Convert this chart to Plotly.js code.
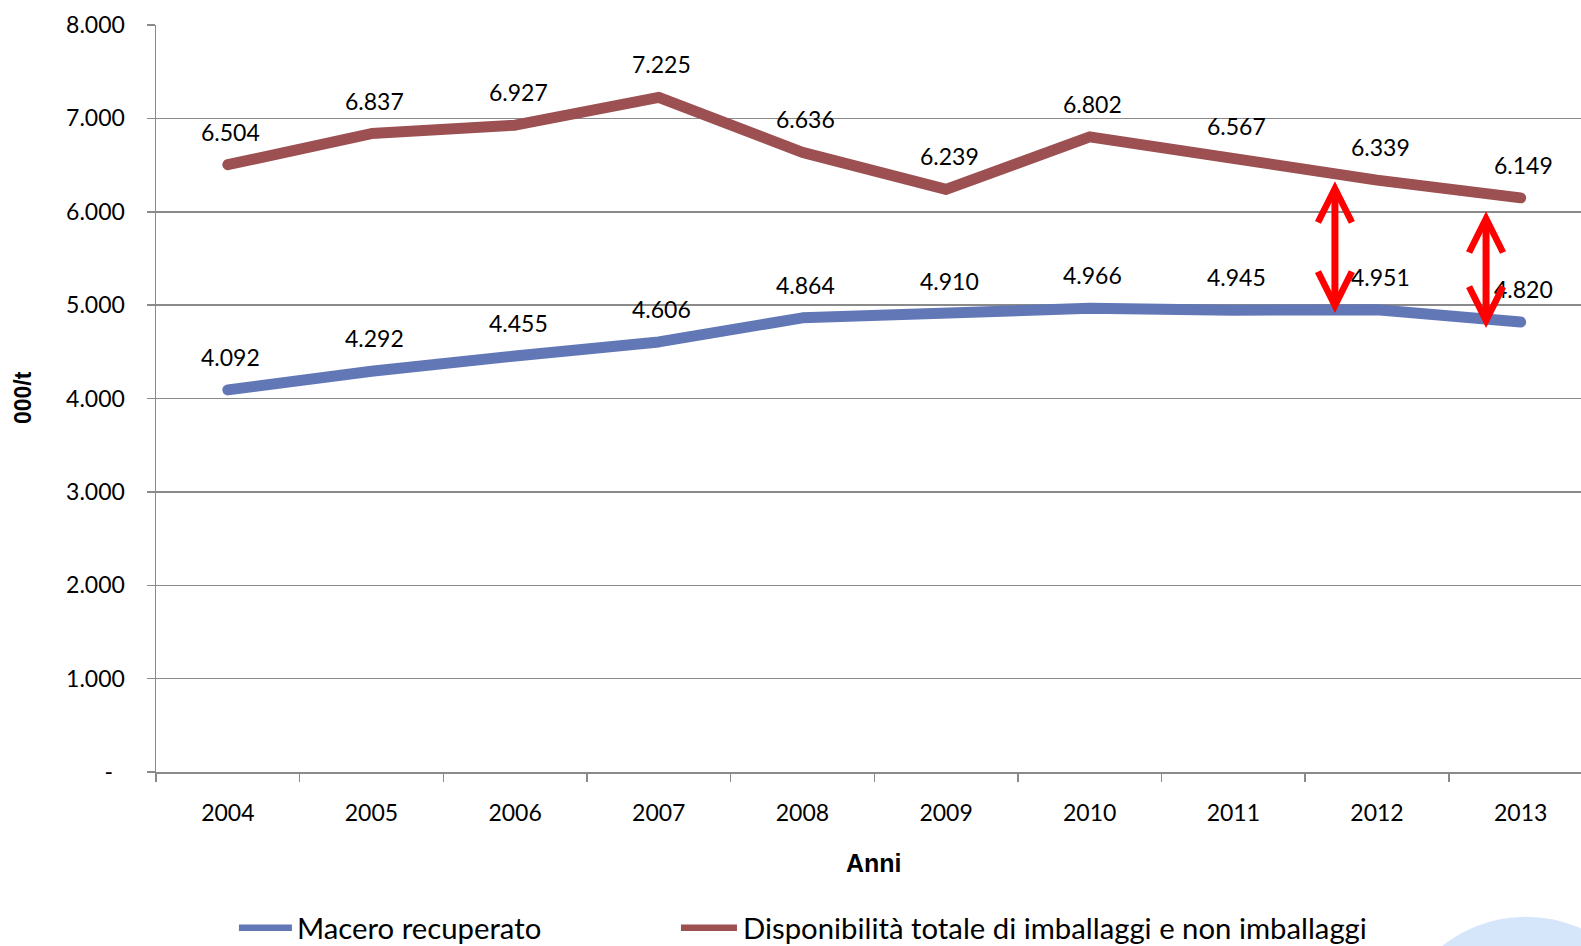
<!DOCTYPE html>
<html>
<head>
<meta charset="utf-8">
<script src="https://cdn.plot.ly/plotly-3.0.1.min.js"></script>
<style>
html, body { margin: 0; padding: 0; background: #ffffff; }
#chart { width: 1581px; height: 946px; }
.js-line { stroke-linecap: round; stroke-linejoin: round; }
</style>
</head>
<body>
<div id="chart"></div>
<script>
// ---- Data ----
const years = ['2004', '2005', '2006', '2007', '2008', '2009', '2010', '2011', '2012', '2013'];
const macero = [4092, 4292, 4455, 4606, 4864, 4910, 4966, 4945, 4951, 4820];
const disponibilita = [6504, 6837, 6927, 7225, 6636, 6239, 6802, 6567, 6339, 6149];
const seriesNames = ['Macero recuperato', 'Disponibilità totale di imballaggi e non imballaggi'];
const yTickVals = [0, 1000, 2000, 3000, 4000, 5000, 6000, 7000, 8000];
const yTickText = ['-\u00a0\u00a0', '1.000', '2.000', '3.000', '4.000', '5.000', '6.000', '7.000', '8.000'];
const arrowX = [7.707, 8.759];
const arrowTop = [6343, 6021];
const arrowBottom = [4917, 4756];

// ---- Styling ----
const blue = '#6177b6';
const brown = '#9c5052';
const grid = '#8a8a8a';
const labelFont = { family: 'Lato, "Open Sans", sans-serif', size: 23, color: '#000000' };
const titleFont = { family: '"Liberation Sans", Arial, sans-serif', size: 25, color: '#000000', weight: 'bold' };

function fmt(v) { return String(v).replace(/\B(?=(\d{3})+(?!\d))/g, '.'); }

const traces = [
  { x: years, y: macero, name: seriesNames[0], type: 'scatter', mode: 'lines',
    line: { color: blue, width: 11 }, showlegend: false, hoverinfo: 'skip' },
  { x: years, y: disponibilita, name: seriesNames[1], type: 'scatter', mode: 'lines',
    line: { color: brown, width: 11 }, showlegend: false, hoverinfo: 'skip' }
];

const annotations = [];
[macero, disponibilita].forEach(series => {
  series.forEach((v, i) => {
    annotations.push({ x: i, y: v, xref: 'x', yref: 'y', text: fmt(v), showarrow: false,
      yshift: 33, xshift: 3, xanchor: 'center', yanchor: 'middle', font: labelFont });
  });
});
arrowX.forEach((ax, i) => {
  annotations.push({ x: ax, y: arrowBottom[i], ax: ax, ay: arrowTop[i], xref: 'x', yref: 'y',
    axref: 'x', ayref: 'y', showarrow: true, text: '', arrowside: 'end+start',
    arrowhead: 5, startarrowhead: 5, arrowsize: 0.95, startarrowsize: 0.95,
    arrowwidth: 7, arrowcolor: '#ff0000', standoff: 0, startstandoff: 0 });
});
// axis titles
annotations.push({ xref: 'paper', yref: 'paper', x: 0.5039, y: -0.1213, text: 'Anni',
  showarrow: false, xanchor: 'center', yanchor: 'middle', font: titleFont });
annotations.push({ xref: 'paper', yref: 'paper', x: -0.0933, y: 0.5007, text: '000/t',
  showarrow: false, xanchor: 'center', yanchor: 'middle', textangle: -90,
  font: Object.assign({}, titleFont, { size: 23 }) });
// legend
const legendY = -0.2084;
const legendFont = { family: 'Lato, "Open Sans", sans-serif', size: 29.3, color: '#000000' };
const legendItems = [
  { x0: 0.0582, x1: 0.0954, tx: 0.0975, color: blue, name: seriesNames[0] },
  { x0: 0.3684, x1: 0.4077, tx: 0.4105, color: brown, name: seriesNames[1] }
];
const shapes = [];
legendItems.forEach(it => {
  shapes.push({ type: 'line', xref: 'paper', yref: 'paper', x0: it.x0, x1: it.x1, y0: legendY, y1: legendY,
    line: { color: it.color, width: 6.5 } });
  annotations.push({ xref: 'paper', yref: 'paper', x: it.tx, y: legendY, text: it.name,
    showarrow: false, xanchor: 'left', yanchor: 'middle', font: legendFont });
});
// decorative circle bottom-right
shapes.push({ type: 'circle', xref: 'paper', yref: 'paper', x0: 0.8667, x1: 1.0561, y0: -0.1937, y1: -0.5555,
  fillcolor: '#d5e6fb', line: { width: 0 }, layer: 'below' });

const layout = {
  width: 1581, height: 946,
  margin: { l: 156, r: 0, t: 25, b: 174, pad: 0 },
  paper_bgcolor: '#ffffff', plot_bgcolor: '#ffffff',
  showlegend: false,
  xaxis: {
    type: 'category', range: [-0.5, 9.42], showline: true, linecolor: grid, linewidth: 1.5,
    ticks: 'outside', tickson: 'boundaries', ticklen: 8, tickcolor: grid, tickwidth: 1.5,
    showgrid: false, zeroline: false, tickfont: labelFont, ticklabelstandoff: 20
  },
  yaxis: {
    range: [0, 8000], tickvals: yTickVals, ticktext: yTickText, showline: true, linecolor: grid, linewidth: 1.5,
    ticks: 'outside', ticklen: 8, tickcolor: grid, tickwidth: 1.5,
    showgrid: true, gridcolor: grid, gridwidth: 1.5, zeroline: false, tickfont: labelFont, ticklabelstandoff: 17
  },
  annotations: annotations,
  shapes: shapes
};

Plotly.newPlot('chart', traces, layout, { displayModeBar: false, staticPlot: true });
</script>
</body>
</html>
